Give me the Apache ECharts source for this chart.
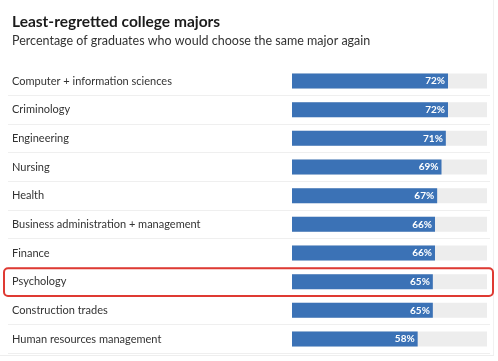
<!DOCTYPE html>
<html>
<head>
<meta charset="utf-8">
<script src="https://cdn.jsdelivr.net/npm/echarts@6/dist/echarts.min.js"></script>
<style>
html,body{margin:0;padding:0;background:#fff;}
#chart{width:498px;height:361px;}
</style>
</head>
<body>
<div id="chart"></div>
<script>
const titleText = 'Least-regretted college majors';
const subtitleText = 'Percentage of graduates who would choose the same major again';
const categories = [
  'Computer + information sciences',
  'Criminology',
  'Engineering',
  'Nursing',
  'Health',
  'Business administration + management',
  'Finance',
  'Psychology',
  'Construction trades',
  'Human resources management'
];
const values = [72, 72, 71, 69, 67, 66, 66, 65, 65, 58];
const highlighted = 'Psychology';

const FONT = 'Lato, "Open Sans", sans-serif';
const chart = echarts.init(document.getElementById('chart'));
const gridTop = 66.7, gridBottom = 7.7;
chart.setOption({
  animation: false,
  title: {
    text: titleText,
    subtext: subtitleText,
    left: 12,
    top: 14,
    padding: 0,
    itemGap: 4,
    textStyle: {fontFamily: FONT, fontSize: 15.5, fontWeight: 'bold', color: '#1b1b1b'},
    subtextStyle: {fontFamily: FONT, fontSize: 12.5, color: '#333'}
  },
  grid: [
    {left: 292, right: 11, top: gridTop, bottom: gridBottom},
    {left: 8, right: 8, top: gridTop, bottom: gridBottom}
  ],
  xAxis: [
    {gridIndex: 0, type: 'value', min: 0, max: 90, show: false},
    {gridIndex: 1, type: 'value', min: 0, max: 1, show: false}
  ],
  yAxis: [
    {
      gridIndex: 0, type: 'category', data: categories, inverse: true,
      axisLine: {show: false}, axisTick: {show: false}, splitLine: {show: false},
      axisLabel: {align: 'left', margin: 280, fontFamily: FONT, fontSize: 11, color: '#333'}
    },
    {
      gridIndex: 1, type: 'category', data: categories, inverse: true,
      axisLine: {show: false}, axisTick: {show: false}, axisLabel: {show: false},
      splitLine: {
        show: true,
        interval: function (index) { return index > 0; },
        lineStyle: {color: '#efefef', width: 1}
      }
    }
  ],
  series: [
    {
      type: 'bar',
      xAxisIndex: 0, yAxisIndex: 0,
      data: values,
      barWidth: 15,
      itemStyle: {color: '#3b72b6'},
      showBackground: true,
      backgroundStyle: {color: '#ededed'},
      label: {
        show: true, position: 'insideRight', distance: 3,
        formatter: '{c}%', color: '#fff', fontFamily: FONT, fontWeight: 'bold', fontSize: 10
      },
      z: 3
    },
    {
      type: 'scatter', xAxisIndex: 1, yAxisIndex: 1, data: [], silent: true
    }
  ]
});

// highlight box around the selected row, positioned from the axis scale
const cy = chart.convertToPixel({yAxisIndex: 1}, highlighted);
const band = (361 - gridTop - gridBottom) / categories.length;
chart.setOption({
  graphic: [
    {
      type: 'rect',
      shape: {x: 4, y: cy - band / 2 + 1, width: 489, height: band - 1, r: 4},
      style: {fill: 'none', stroke: '#df3a33', lineWidth: 2},
      z: 10
    },
    {
      type: 'line',
      shape: {x1: 493.5, y1: 0, x2: 493.5, y2: 356},
      style: {stroke: '#f1f1f1', lineWidth: 1}
    },
    {
      type: 'line',
      shape: {x1: 0, y1: 355.5, x2: 494, y2: 355.5},
      style: {stroke: '#eeeeee', lineWidth: 1}
    }
  ]
});
</script>
</body>
</html>
